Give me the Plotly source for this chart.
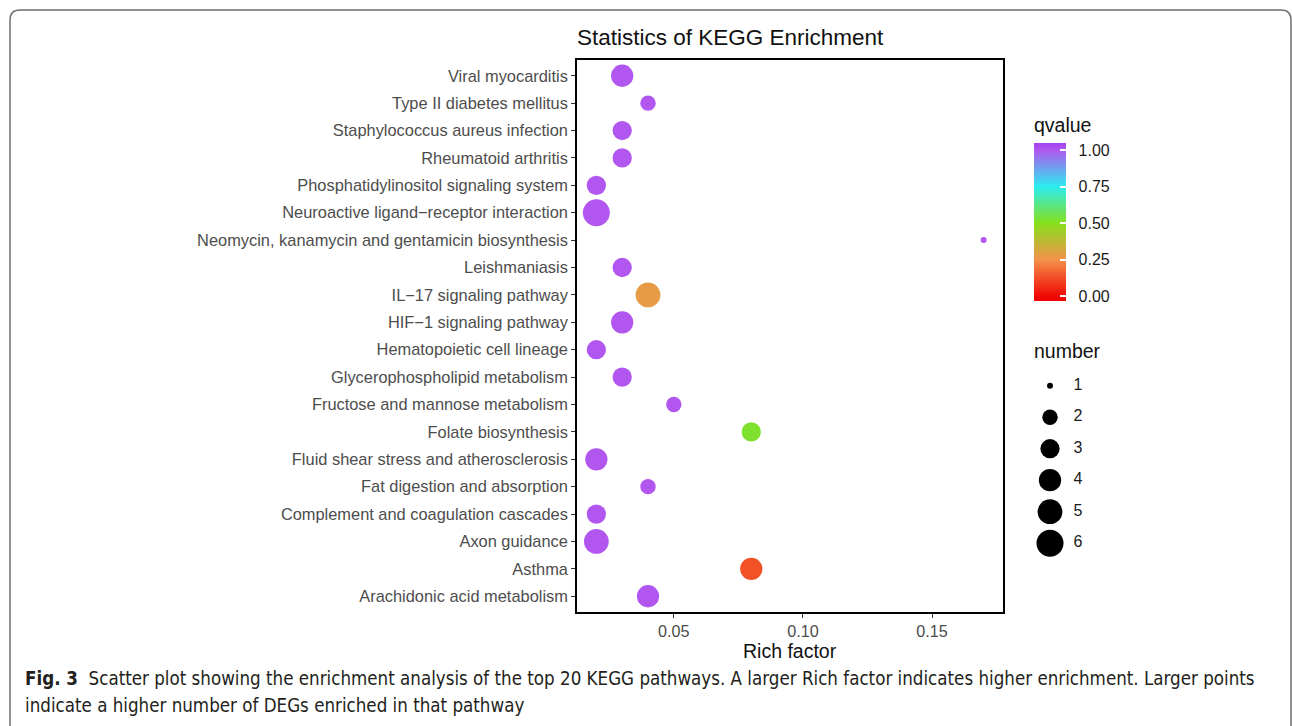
import plotly.graph_objects as go

# KEGG pathway enrichment results (top to bottom as listed on the y axis)
pathways = [
    "Viral myocarditis",
    "Type II diabetes mellitus",
    "Staphylococcus aureus infection",
    "Rheumatoid arthritis",
    "Phosphatidylinositol signaling system",
    "Neuroactive ligand\u2212receptor interaction",
    "Neomycin, kanamycin and gentamicin biosynthesis",
    "Leishmaniasis",
    "IL\u221217 signaling pathway",
    "HIF\u22121 signaling pathway",
    "Hematopoietic cell lineage",
    "Glycerophospholipid metabolism",
    "Fructose and mannose metabolism",
    "Folate biosynthesis",
    "Fluid shear stress and atherosclerosis",
    "Fat digestion and absorption",
    "Complement and coagulation cascades",
    "Axon guidance",
    "Asthma",
    "Arachidonic acid metabolism",
]
rich_factor = [0.03, 0.04, 0.03, 0.03, 0.02, 0.02, 0.17, 0.03, 0.04, 0.03,
               0.02, 0.03, 0.05, 0.08, 0.02, 0.04, 0.02, 0.02, 0.08, 0.04]
gene_number = [4, 2, 3, 3, 3, 6, 1, 3, 5, 4,
               3, 3, 2, 3, 4, 2, 3, 5, 4, 4]
qvalue = [1.0, 1.0, 1.0, 1.0, 1.0, 1.0, 1.0, 1.0, 0.28, 1.0,
          1.0, 1.0, 1.0, 0.52, 1.0, 1.0, 1.0, 1.0, 0.13, 1.0]

size_breaks = [1, 2, 3, 4, 5, 6]
q_ticks = [0.0, 0.25, 0.5, 0.75, 1.0]

caption_lines = [
    "<b>Fig. 3</b>  Scatter plot showing the enrichment analysis of the top 20 KEGG pathways. "
    "A larger Rich factor indicates higher enrichment. Larger points",
    "indicate a higher number of DEGs enriched in that pathway",
]

W, H = 1292, 726
FONT = "Liberation Sans, Arial, sans-serif"
CAPTION_FONT = "Liberation Sans Narrow, DejaVu Sans Condensed, Roboto, sans-serif"

# panel edges in pixels
PX_L, PX_R, PX_T, PX_B = 577, 1003, 60, 612
# colour bar box in pixels
CB_L, CB_T, CB_LEN, CB_W = 1034, 143, 158, 32


def fx(px):
    return px / W


def fy(py):
    return 1 - py / H


# area-style size scale: diameter grows with sqrt of the rescaled count
N_MIN, N_MAX = min(size_breaks), max(size_breaks)
D_MIN, D_MAX = 6, 27


def diameter(n):
    return D_MIN + (D_MAX - D_MIN) * ((n - N_MIN) / (N_MAX - N_MIN)) ** 0.5


# rainbow-like gradient for the qvalue colour scale
Q_LO, Q_HI = -0.034, 1.048
q_anchor = [Q_LO, 0.0, 0.25, 0.5, 0.75, 1.0, Q_HI]
c_anchor = ["#EE0000", "#F00A04", "#F4924A", "#86E01C", "#2CECF0", "#B157F0", "#A440F0"]
colorscale = [[(q - Q_LO) / (Q_HI - Q_LO), c] for q, c in zip(q_anchor, c_anchor)]

fig = go.Figure()

fig.add_trace(go.Scatter(
    x=rich_factor,
    y=pathways,
    mode="markers",
    marker=dict(
        size=[diameter(n) for n in gene_number],
        color=qvalue,
        colorscale=colorscale,
        cmin=Q_LO,
        cmax=Q_HI,
        opacity=1,
        line=dict(width=0),
        showscale=True,
        colorbar=dict(
            x=fx(CB_L), xanchor="left", xref="paper",
            y=fy(CB_T), yanchor="top", yref="paper",
            len=CB_LEN, lenmode="pixels",
            thickness=CB_W, thicknessmode="pixels",
            xpad=0, ypad=0,
            outlinewidth=0,
            tickvals=q_ticks,
            ticktext=[f"  {v:.2f}" for v in q_ticks],
            ticks="inside", ticklen=6, tickcolor="white", tickwidth=1.5,
            tickfont=dict(family=FONT, size=16, color="#1a1a1a"),
        ),
    ),
    showlegend=False,
    hoverinfo="x+y",
))

# size key ("number")
key_y0, key_step = 385.7, 31.5
key_y = [key_y0 + i * key_step for i in range(len(size_breaks))]
fig.add_trace(go.Scatter(
    x=[1050] * len(size_breaks),
    y=key_y,
    mode="markers",
    marker=dict(size=[diameter(n) for n in size_breaks], color="black",
                opacity=1, line=dict(width=0)),
    xaxis="x2", yaxis="y2",
    showlegend=False, hoverinfo="skip",
))
fig.add_trace(go.Scatter(
    x=[1078] * len(size_breaks),
    y=key_y,
    mode="text",
    text=[str(n) for n in size_breaks],
    textposition="middle center",
    textfont=dict(family=FONT, size=16, color="#1a1a1a"),
    xaxis="x2", yaxis="y2",
    showlegend=False, hoverinfo="skip",
))

axis_line = dict(showline=True, linecolor="black", linewidth=1.6, mirror=True)

fig.update_layout(
    width=W, height=H,
    margin=dict(l=0, r=0, t=0, b=0),
    paper_bgcolor="white",
    plot_bgcolor="white",
    xaxis=dict(
        domain=[fx(PX_L), fx(PX_R)],
        range=[0.0125, 0.1775],
        tickvals=[0.05, 0.10, 0.15],
        ticktext=["0.05", "0.10", "0.15"],
        ticks="outside", ticklen=4, tickwidth=1.3, tickcolor="#333333",
        tickfont=dict(family=FONT, size=16.2, color="#4D4D4D"),
        showgrid=False, zeroline=False,
        **axis_line,
    ),
    yaxis=dict(
        domain=[fy(PX_B), fy(PX_T)],
        type="category",
        categoryorder="array",
        categoryarray=pathways[::-1],
        range=[-0.575, len(pathways) - 0.425],
        ticks="outside", ticklen=4, tickwidth=1.3, tickcolor="#333333",
        tickfont=dict(family=FONT, size=16.4, color="#4D4D4D"),
        showgrid=False, zeroline=False,
        **axis_line,
    ),
    xaxis2=dict(domain=[fx(1030), fx(1110)], range=[1030, 1110], visible=False, fixedrange=True),
    yaxis2=dict(domain=[0, 1], range=[H, 0], visible=False, fixedrange=True),
    font=dict(family=FONT, color="#1a1a1a"),
)

annotations = [
    dict(text="Statistics of KEGG Enrichment", x=fx(575), y=fy(37),
         xanchor="left", yanchor="middle", font=dict(size=22.5, color="#111111")),
    dict(text="Rich factor", x=fx((PX_L + PX_R) / 2), y=fy(651),
         xanchor="center", yanchor="middle", font=dict(size=19.5, color="#111111")),
    dict(text="qvalue", x=fx(1032), y=fy(125),
         xanchor="left", yanchor="middle", font=dict(size=19.5, color="#111111")),
    dict(text="number", x=fx(1032), y=fy(351),
         xanchor="left", yanchor="middle", font=dict(size=19.5, color="#111111")),
]
for i, line in enumerate(caption_lines):
    annotations.append(dict(
        text=line, x=fx(23), y=fy(678 + 27 * i), xanchor="left", yanchor="middle",
        align="left", font=dict(family=CAPTION_FONT, size=18.6, color="#231F20"),
    ))
for a in annotations:
    a.update(xref="paper", yref="paper", showarrow=False)
    a["font"].setdefault("family", FONT)
fig.update_layout(annotations=annotations)

# short white tick marks on the left edge of the colour bar
for q in q_ticks:
    py = CB_T + (Q_HI - q) / (Q_HI - Q_LO) * CB_LEN
    fig.add_shape(type="line", xref="paper", yref="paper",
                  x0=fx(CB_L), x1=fx(CB_L + 6), y0=fy(py), y1=fy(py),
                  line=dict(color="white", width=1.5))

# rounded page frame around the figure
r = 10
x0, y0, x1 = 10, 10, 1291
path = (f"M {fx(x0)},{fy(H + 5)} L {fx(x0)},{fy(y0 + r)} "
        f"Q {fx(x0)},{fy(y0)} {fx(x0 + r)},{fy(y0)} "
        f"L {fx(x1 - r)},{fy(y0)} Q {fx(x1)},{fy(y0)} {fx(x1)},{fy(y0 + r)} "
        f"L {fx(x1)},{fy(H + 5)}")
fig.add_shape(type="path", path=path, xref="paper", yref="paper",
              line=dict(color="#6E6E6E", width=1.5))

fig.write_html("out.html")
